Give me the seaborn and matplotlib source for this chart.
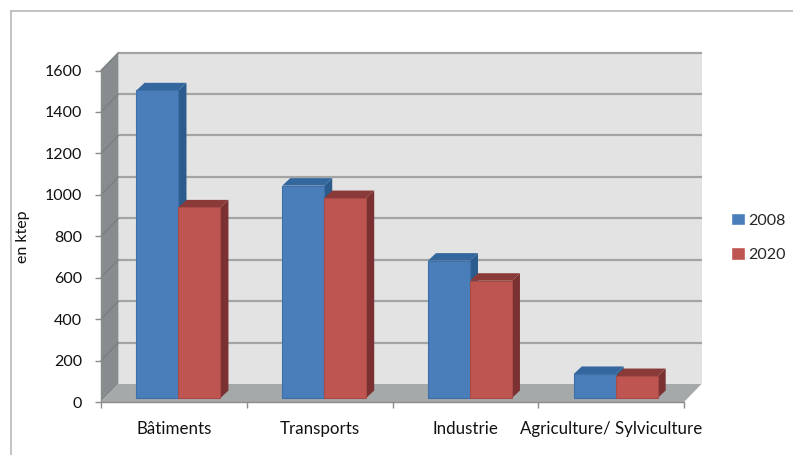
"""Consommation par secteur (en ktep), 2008 et 2020 : barres façon 3D."""

import matplotlib.pyplot as plt
import pandas as pd
import seaborn as sns
from matplotlib.lines import Line2D
from matplotlib.patches import Polygon

SECTEURS = ["Bâtiments", "Transports", "Industrie", "Agriculture/ Sylviculture"]
ANNEES = ["2008", "2020"]
VALEURS_2008 = [1485, 1025, 663, 116]
VALEURS_2020 = [920, 965, 566, 106]
Y_TICKS = [0, 200, 400, 600, 800, 1000, 1200, 1400, 1600]

W, H = 793, 455
BLEU = {"face": "#4A7EBB", "cote": "#2C5C8D", "dessus": "#34679E", "bord": "#3F6FA8"}
ROUGE = {"face": "#BE5550", "cote": "#7B3131", "dessus": "#8A3A38", "bord": "#A84A47"}
MUR, MUR_G, SOL, GRILLE = "#E3E3E3", "#878C8E", "#A5A9A9", "#A3A5A5"
AXE = "#8C8C8C"

sns.set_theme(style="white")
plt.rcParams["font.family"] = ["Lato", "DejaVu Sans"]

df = pd.DataFrame({
    "secteur": SECTEURS * 2,
    "annee": [ANNEES[0]] * 4 + [ANNEES[1]] * 4,
    "valeur": VALEURS_2008 + VALEURS_2020,
})

fig = plt.figure(figsize=(W / 100, H / 100), dpi=100)
ax = fig.add_axes([101 / W, 1 - 402 / H, 583 / W, 331.5 / H])

sns.barplot(data=df, x="secteur", y="valeur", hue="annee", hue_order=ANNEES,
            palette=[BLEU["face"], ROUGE["face"]], saturation=1, width=0.576,
            ax=ax)
ax.set_xlim(-0.5, 3.5)
ax.set_ylim(0, 1600)

# conversion pixels -> unités de données
px_x = 4 / 583
px_y = 1600 / 331.5
FOND_X, FOND_Y = 17.5 * px_x, 18 * px_y
DECAL_X, DECAL_Y = 4.6 * px_x, 4 * px_y
PROF_X, PROF_Y = 8 * px_x, 7.5 * px_y


def poly(points, couleur, z):
    ax.add_patch(Polygon(points, closed=True, facecolor=couleur, edgecolor="none",
                         clip_on=False, zorder=z))


# parois
x0, x1 = -0.5, 3.5
poly([(x0 + FOND_X, FOND_Y), (x1 + FOND_X, FOND_Y), (x1 + FOND_X, 1600 + FOND_Y),
      (x0 + FOND_X, 1600 + FOND_Y)], MUR, 0.1)
poly([(x0, 0), (x0 + FOND_X, FOND_Y), (x0 + FOND_X, 1600 + FOND_Y), (x0, 1600)], MUR_G, 0.2)
poly([(x0, 0), (x1, 0), (x1 + FOND_X, FOND_Y), (x0 + FOND_X, FOND_Y)], SOL, 0.2)
for t in Y_TICKS[1:]:
    ax.plot([x0 + FOND_X, x1 + FOND_X], [t + FOND_Y] * 2, color=GRILLE, lw=1.6,
            clip_on=False, zorder=0.3, solid_capstyle="butt")
    ax.plot([x0, x0 + FOND_X], [t, t + FOND_Y], color="#7A7F81", lw=1.0,
            clip_on=False, zorder=0.3)

# côtés et dessus des barres, à partir des barres dessinées par seaborn
barres = [p for c in ax.containers for p in c]
barres_par_annee = zip(barres, [BLEU] * 4 + [ROUGE] * 4)
for patch, teintes in barres_par_annee:
    gauche = patch.get_x() + DECAL_X
    droite = gauche + patch.get_width()
    haut = patch.get_height() + DECAL_Y
    base = DECAL_Y
    patch.set_x(gauche)
    patch.set_y(base)
    patch.set_edgecolor(teintes["bord"])
    patch.set_linewidth(0.8)
    patch.set_zorder(4)
    poly([(droite, base), (droite + PROF_X, base + PROF_Y), (droite + PROF_X, haut + PROF_Y),
          (droite, haut)], teintes["cote"], 3)
    poly([(gauche, haut), (droite, haut), (droite + PROF_X, haut + PROF_Y),
          (gauche + PROF_X, haut + PROF_Y)], teintes["dessus"], 3)

# axes
ax.set_xlabel("")
ax.set_ylabel("en ktep", fontsize=11.5, color="#111111", labelpad=10.5)
ax.set_yticks(Y_TICKS)
ax.set_xticks([0, 1, 2, 3], SECTEURS)
ax.set_xticks([-0.5, 0.5, 1.5, 2.5, 3.5], minor=True)
ax.tick_params(axis="y", left=True, length=4.5, width=1, color=AXE, labelsize=11.5,
               labelcolor="#111111", pad=9)
ax.tick_params(axis="x", which="major", bottom=False, labelsize=12.2, labelcolor="#111111", pad=8)
ax.tick_params(axis="x", which="minor", bottom=True, length=4, width=1, color=AXE)
for nom in ["top", "right"]:
    ax.spines[nom].set_visible(False)
for nom in ["left", "bottom"]:
    ax.spines[nom].set_color(AXE)
    ax.spines[nom].set_linewidth(1)
    ax.spines[nom].set_zorder(0.4)

ax.legend(loc="center left", bbox_to_anchor=(731 / W, 1 - 237.5 / H),
          bbox_transform=fig.transFigure, frameon=False, fontsize=11.5,
          handlelength=0.85, handleheight=0.85, handletextpad=0.2, labelspacing=1.25,
          borderpad=0, borderaxespad=0, title=None)

# cadre du graphique
fig.add_artist(Line2D([11 / W, 11 / W], [0, 1 - 11 / H], color="#B8B8B8", lw=1.2))
fig.add_artist(Line2D([11 / W, 1], [1 - 11 / H, 1 - 11 / H], color="#B8B8B8", lw=1.2))

fig.savefig("out.png", dpi=100, facecolor="white")
